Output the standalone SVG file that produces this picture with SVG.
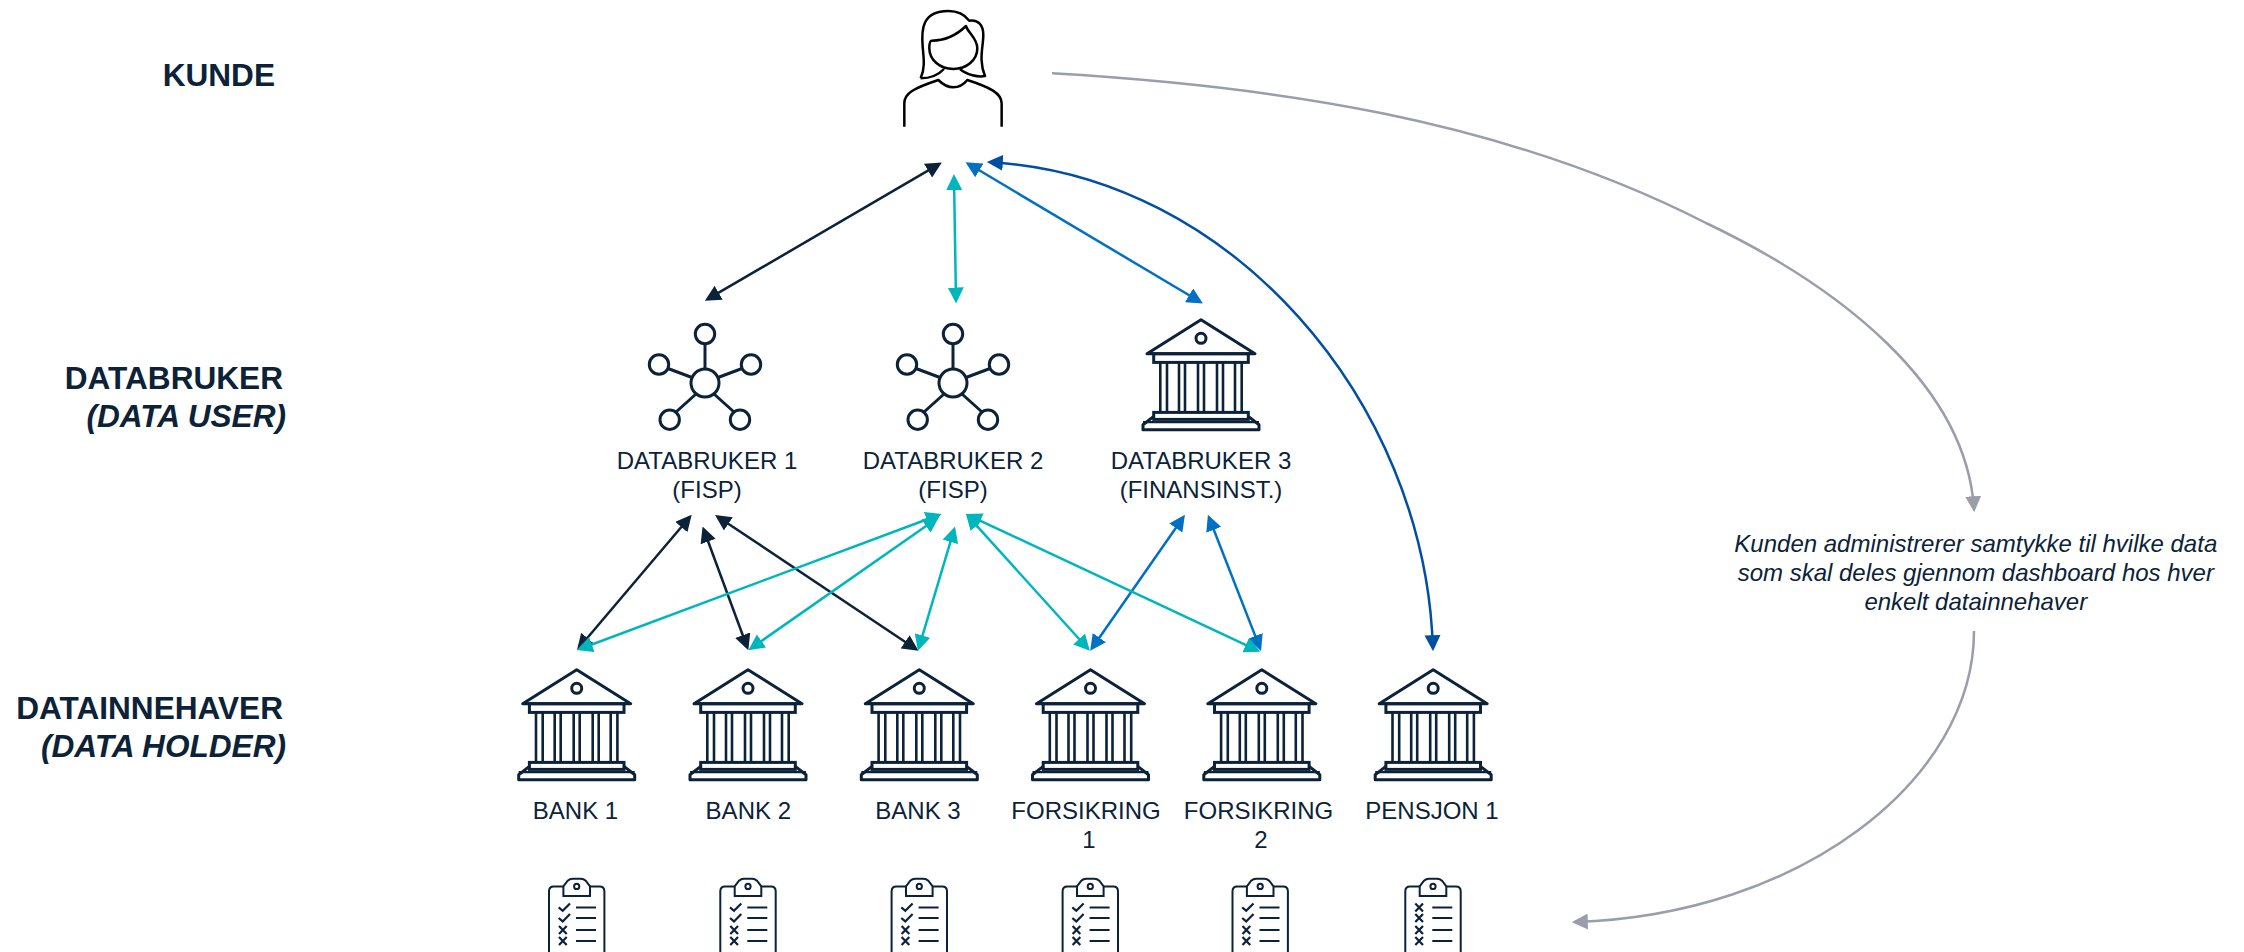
<svg xmlns="http://www.w3.org/2000/svg" width="2244" height="952" viewBox="0 0 2244 952">
<style>
text{font-family:"Liberation Sans",Arial,sans-serif;fill:#0b2239}
.lbl{font-size:24px;text-anchor:middle}
.head{font-size:31.6px;font-weight:bold;text-anchor:end}
.sub{font-size:31.6px;font-weight:bold;font-style:italic;text-anchor:end}
.note{font-size:24px;font-style:italic;text-anchor:middle}
.ic{fill:none;stroke:#0b2239;stroke-width:3}
.cb{fill:none;stroke:#0b2239;stroke-width:2}
.c{fill:none;stroke-width:2.5}
.dk{stroke:#0b2239;marker-start:url(#mDk);marker-end:url(#mDk)}
.te{stroke:#00b6bd;marker-start:url(#mTe);marker-end:url(#mTe)}
.bl{stroke:#0070c4;marker-start:url(#mBl);marker-end:url(#mBl)}
.nv{stroke:#004fa3;marker-start:url(#mNv);marker-end:url(#mNv)}
.gr{stroke:#9a9dab;marker-end:url(#mGr)}
</style>
<defs>
<marker id="mDk" markerUnits="userSpaceOnUse" markerWidth="16" markerHeight="16" viewBox="0 0 15 15" refX="12" refY="7.5" orient="auto-start-reverse"><path d="M0,0L15,7.5L0,15Z" fill="#0b2239"/></marker>
<marker id="mTe" markerUnits="userSpaceOnUse" markerWidth="16" markerHeight="16" viewBox="0 0 15 15" refX="12" refY="7.5" orient="auto-start-reverse"><path d="M0,0L15,7.5L0,15Z" fill="#00b6bd"/></marker>
<marker id="mBl" markerUnits="userSpaceOnUse" markerWidth="16" markerHeight="16" viewBox="0 0 15 15" refX="12" refY="7.5" orient="auto-start-reverse"><path d="M0,0L15,7.5L0,15Z" fill="#0070c4"/></marker>
<marker id="mNv" markerUnits="userSpaceOnUse" markerWidth="16" markerHeight="16" viewBox="0 0 15 15" refX="12" refY="7.5" orient="auto-start-reverse"><path d="M0,0L15,7.5L0,15Z" fill="#004fa3"/></marker>
<marker id="mGr" markerUnits="userSpaceOnUse" markerWidth="16" markerHeight="16" viewBox="0 0 15 15" refX="12" refY="7.5" orient="auto-start-reverse"><path d="M0,0L15,7.5L0,15Z" fill="#9a9dab"/></marker>
<g id="bank" class="ic">
<path d="M-54,34.7L0,0.8L54,34.7Z" stroke-linejoin="round"/>
<circle cx="0" cy="19.3" r="5"/>
<rect x="-47.3" y="34.7" width="94.6" height="8.7"/>
<path d="M-40.7,43.4V93.4M-34,43.4V93.4M-22,43.4V93.4M-16,43.4V93.4M-3,43.4V93.4M3,43.4V93.4M16,43.4V93.4M22,43.4V93.4M34,43.4V93.4M40.7,43.4V93.4" stroke-width="2.6"/>
<rect x="-47.3" y="93.4" width="94.6" height="7"/>
<path d="M-47.3,97.4L-58,105.7V110.7H58V105.7L47.3,97.4" stroke-linejoin="round"/>
<path d="M-58,103.2H58" stroke-width="2.2"/>
</g>
<g id="net" class="ic">
<circle cx="0" cy="0" r="14"/>
<circle cx="0" cy="-49" r="9.7"/>
<circle cx="-46" cy="-18.5" r="9.7"/>
<circle cx="46" cy="-18.5" r="9.7"/>
<circle cx="-35.3" cy="36.7" r="9.7"/>
<circle cx="35" cy="36.7" r="9.7"/>
<path d="M0,-39V-14M-37,-14.5L-13,-5.5M37,-14.5L13,-5.5M-29,29L-9,11M29,29L9,11"/>
</g>
<g id="clip" class="cb">
<path d="M-27.7,80V12.5Q-27.7,7.7-23,7.7H23Q27.7,7.7,27.7,12.5V80"/>
<path d="M-13.3,7.7V17.3H13.3V7.7L9,2Q7,0,4,0H-4Q-7,0-9,2Z" fill="#fff"/>
<circle cx="0" cy="7.7" r="2.6"/>
<path d="M-0.7,28.7H19.3M-0.7,39.3H19.3M-0.7,51.3H19.3M-0.7,62.3H19.3"/>
</g>
<path id="ck" d="M-18,0L-14,3.4L-6.7,-4" fill="none" stroke="#0b2239" stroke-width="2.2"/>
<path id="xx" d="M-17.7,-4L-10,4M-10,-4L-17.7,4" fill="none" stroke="#0b2239" stroke-width="2.2"/>
</defs>
<rect width="2244" height="952" fill="#fff"/>

<g id="row-labels">
<text class="head" x="275" y="85.5">KUNDE</text>
<text class="head" x="283" y="389">DATABRUKER</text>
<text class="sub" x="286" y="427">(DATA USER)</text>
<text class="head" x="283" y="719">DATAINNEHAVER</text>
<text class="sub" x="286" y="756.5">(DATA HOLDER)</text>
</g>

<g id="kunde" transform="translate(850,0) scale(.3333)" fill="none" stroke="#000" stroke-width="7.5" stroke-linejoin="round">
<path d="M163,380V310C163,280 190,265 265,240C280,255 295,262 310,262C325,262 340,255 352,240C420,262 455,280 455,310V380"/>
<path d="M212,235C225,205 222,180 218,140C214,90 215,33 295,33C325,33 345,45 358,62C385,58 400,75 400,105C400,140 385,180 405,228C385,232 350,225 330,207"/>
<path d="M212,235C240,235 265,225 282,207"/>
<path d="M245,122C285,122 320,105 348,78C355,100 382,115 382,145C382,180 350,207 310,207C270,207 238,180 238,145C238,135 238,122 245,122Z"/>
</g>

<g id="databruker1"><use href="#net" x="705" y="383"/><text class="lbl" x="707" y="468.5">DATABRUKER 1</text><text class="lbl" x="707" y="497.5">(FISP)</text></g>
<g id="databruker2"><use href="#net" x="953" y="383"/><text class="lbl" x="953" y="468.5">DATABRUKER 2</text><text class="lbl" x="953" y="497.5">(FISP)</text></g>
<g id="databruker3"><use href="#bank" x="1201" y="319"/><text class="lbl" x="1201" y="468.5">DATABRUKER 3</text><text class="lbl" x="1201" y="497.5">(FINANSINST.)</text></g>

<g id="bank1"><use href="#bank" x="576.7" y="669"/><text class="lbl" x="575.5" y="818.5">BANK 1</text></g>
<g id="bank2"><use href="#bank" x="748" y="669"/><text class="lbl" x="748.3" y="818.5">BANK 2</text></g>
<g id="bank3"><use href="#bank" x="919.3" y="669"/><text class="lbl" x="918" y="818.5">BANK 3</text></g>
<g id="forsikring1"><use href="#bank" x="1090.5" y="669"/><text class="lbl" x="1086" y="818.5">FORSIKRING</text><text class="lbl" x="1089" y="848">1</text></g>
<g id="forsikring2"><use href="#bank" x="1261.8" y="669"/><text class="lbl" x="1258.5" y="818.5">FORSIKRING</text><text class="lbl" x="1261" y="848">2</text></g>
<g id="pensjon1"><use href="#bank" x="1433.2" y="669"/><text class="lbl" x="1432" y="818.5">PENSJON 1</text></g>

<g id="dashboard1" transform="translate(576.7,878.7)"><use href="#clip"/><use href="#ck" y="28.7"/><use href="#ck" y="39.3"/><use href="#xx" y="51.3"/><use href="#xx" y="62.3"/></g>
<g id="dashboard2" transform="translate(748,878.7)"><use href="#clip"/><use href="#ck" y="28.7"/><use href="#ck" y="39.3"/><use href="#xx" y="51.3"/><use href="#xx" y="62.3"/></g>
<g id="dashboard3" transform="translate(919.3,878.7)"><use href="#clip"/><use href="#ck" y="28.7"/><use href="#ck" y="39.3"/><use href="#xx" y="51.3"/><use href="#xx" y="62.3"/></g>
<g id="dashboard4" transform="translate(1090.3,878.7)"><use href="#clip"/><use href="#ck" y="28.7"/><use href="#ck" y="39.3"/><use href="#xx" y="51.3"/><use href="#xx" y="62.3"/></g>
<g id="dashboard5" transform="translate(1260.2,878.7)"><use href="#clip"/><use href="#ck" y="28.7"/><use href="#ck" y="39.3"/><use href="#xx" y="51.3"/><use href="#xx" y="62.3"/></g>
<g id="dashboard6" transform="translate(1433,878.7)"><use href="#clip"/><use href="#xx" y="28.7"/><use href="#xx" y="39.3"/><use href="#xx" y="51.3"/><use href="#xx" y="62.3"/></g>

<g id="note">
<text class="note" x="1975.8" y="551.7">Kunden administrerer samtykke til hvilke data</text>
<text class="note" x="1975.8" y="580.7">som skal deles gjennom dashboard hos hver</text>
<text class="note" x="1975.8" y="610">enkelt datainnehaver</text>
</g>

<g id="connectors">
<path class="c dk" d="M939.1,164.2L707.6,299.2"/>
<path class="c te" d="M954,177.3L956,300.3"/>
<path class="c bl" d="M968.3,163.8L1200.1,301.8"/>
<path class="c nv" d="M990,162.2C1230,175 1425,400 1432.9,648"/>
<path class="c dk" d="M689.6,517.3L579,647.7"/>
<path class="c dk" d="M703.7,529.5L747.2,647.2"/>
<path class="c dk" d="M717.7,516.7L915.8,649"/>
<path class="c te" d="M938.7,515L579.8,649"/>
<path class="c te" d="M936.5,518.7L751,648.3"/>
<path class="c te" d="M954.1,529.6L918.8,647.8"/>
<path class="c te" d="M968,516.2L1087.7,648.5"/>
<path class="c bl" d="M1183.1,517.5L1092,648.2"/>
<path class="c bl" d="M1209.1,517.8L1259.9,647.9"/>
<path class="c te" d="M968.7,515.3L1257.3,650.4"/>
<path class="c gr" d="M1052,73.3C1270,86 1500,118 1706,223C1840,287 1966,385 1974,509"/>
<path class="c gr" d="M1974,631C1974,780 1800,915 1575,922"/>
</g>
</svg>
